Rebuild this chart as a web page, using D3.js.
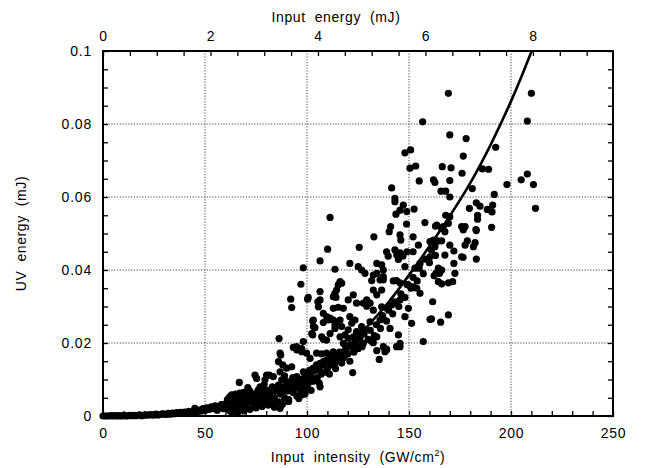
<!DOCTYPE html>
<html>
<head>
<meta charset="utf-8">
<script src="https://cdn.jsdelivr.net/npm/d3@7"></script>
<style>
  body { margin: 0; background: #fff; }
  svg text { font-family: "Liberation Sans", Arial, sans-serif; fill: #000; }
</style>
</head>
<body>
<div id="chart"></div>
<script>
// values
const intensityLabels = [0, 50, 100, 150, 200, 250];
const energyLabels = [0, 2, 4, 6, 8];
const uvLabels = [0, 0.02, 0.04, 0.06, 0.08, 0.1];
const topAxisMax = 9.49; // mJ at 250 GW/cm2

// fitted curve, intensity (GW/cm2) and UV energy (mJ)
const curveI = [0, 20, 40, 60, 80, 100, 110, 120, 130, 140, 150, 160, 170, 180, 190, 200, 205, 210];
const curveE = [0, 0.0001, 0.0007, 0.0023, 0.0055, 0.0108, 0.0145, 0.0192, 0.0248, 0.0312, 0.0386,
  0.0465, 0.0548, 0.0638, 0.0743, 0.0862, 0.0928, 0.0998];

// measured shots: intensity (GW/cm2), UV energy (10^-3 mJ)
const shotI = [
  0,1,2,3,4,5,6,7,8,9,10,11,12,13,14,15,16,17,18,19,20,21,22,23,24,25,26,27,28,29,30,
  31,32,33,34,35,36,37,38,39,40,41,42,43,44,45,46,47,48,49,50,51,52,53,54,55,56,57,58,59,60,45,
  61,61,62,62,63,63,64,64,65,65,66,66,67,67,68,68,69,69,70,70,71,72,72,73,74,74,75,76,76,77,78,78,
  79,80,80,81,82,82,83,84,84,85,86,86,86.8,87,88,89,90,90,91,92,93,93,94,95,95,96,97,97,98,99,99,
  100,100,101,102,102,103,104,105,106,106,107,108,109,110,110,111,112,113,114,115,116,117,118,119,
  120,121,122,123,124,125,126,127,128,130,131,133,134,136,137,139,140,142,143,145,146,148,149,151,
  152,154,155,157,158,160,161,163,164,
  63,66,69,72,75,78,81,84,88,91,96,99,71,79,89,
  169.3,210,208,170,178,192.5,176.6,166.3,170.6,186,189,176,162,162.7,170,205,208,211,198,181,
  165.7,168,170,191.8,212,179.6,183,184.8,191,188.4,190.7,168,170,183.6,183.6,163,166.8,175.8,177.5,
  182.8,190.5,
  163.6,166,167.6,169.3,176.6,183,178.6,177.5,182.4,181.6,162,163.6,166,162.7,170,172,167.6,175.8,
  176.5,183,172,164.4,166,163.2,165,172.5,162.3,164.4,166,169.3,171.4,161.6,161,165.5,169.3,
  156.7,148,150.8,150.5,153.3,155,141.5,143.1,143.1,147.2,145.6,148.9,152.5,143.6,111.3,141,148.8,157.8,
  140.3,132.8,145.6,146,152,154.6,160.3,125.6,139,139.8,143.1,144,145.6,147,144.8,149,152,160.3,121,
  113.7,125.1,126.8,128.4,134.2,136.6,137.4,134.2,148,152.9,155.4,116.2,115.3,131.7,135.8,137.4,142.3,
  143.9,145.6,149.7,152,153.8,155.4,132.5,134.2,136.6,114.2,128.4,129.3,143.1,145.6,112.9,115.3,117.8,
  136.6,139,141.5,149.7,121,123.5,121.9,130.9,135.8,137.4,148,151.3,160.3,114.5,111.3,113.7,117,126.8,
  127.6,124.3,140.7,144.8,118.6,116.2,120.2,131.7,132.5,145.6,157,117.8,121,125.1,122.7,134.2,138.2,
  139,112.9,115.3,118.6,113.7,135.4,122.4,127.6,
  110.1,106.4,98.2,97,106.4,105.3,100.6,100.3,92,92.5,102.8,103.9,102.8,108,110.5,113.7,108,98.2,86.3,
  93.3,95,97.4,104.7,107.2,109.6,101.5,87.1,88.1,90,92.5,
  98.2,99.8,101.5,103.1,104.7,106.4,108,109.6,111.3,112.9,115.3,
  74.5,75.3,77,79.4,81.5,83.5,87.6,88.4,90.8,93.3,95,94.1,97.4,99,100.6,102.3,106.4,66.8,80.2,86.8,86,86.8,
  137.4,132.5,117,114.5,113.7,112.9,120.2,122.7,124.3,129.3,130.9,132.5,106.4,105.6,108,109.6,112.9,
  116.2,103.1,103.1,102.3,107.2,109.6,111.3,120.2,122.7,125.1,127.6,130.9,134.2,137.4,139,143.9,145.6,
  94.9,97.4,99.8
];
const shotE = [
  0,0,0,0,0.1,0,0.1,0,0.1,0,0.1,0.1,0,0.2,0.1,0.2,0.1,0.2,0.3,0.1,0.2,0.3,0.2,0.4,0.3,0.3,0.5,0.3,0.4,0.6,0.5,
  0.4,0.7,0.5,0.8,0.6,0.9,0.7,1.0,0.8,1.1,0.9,1.3,1.0,1.2,1.5,1.1,1.6,1.3,2.0,1.5,2.2,1.8,2.5,2.0,2.8,1.6,2.4,3.1,2.0,3.3,2.1,
  4.5,2.0,5.2,1.5,3.8,5.8,2.6,4.6,6.0,3.2,1.8,5.0,4.0,6.3,2.9,5.5,3.6,6.5,4.5,2.5,5.8,3.8,6.8,5.0,3.2,6.0,4.5,7.0,3.0,5.5,4.2,7.5,
  6.0,3.6,5.0,7.0,4.5,6.2,8.0,5.0,3.5,6.8,3.9,8.5,2.1,6.0,7.5,5.0,6.8,9.5,4.5,8.0,6.5,10.5,7.5,5.5,9.0,8.0,10.0,6.5,9.0,7.5,11.0,
  8.5,12.0,10.0,7.0,11.5,9.5,12.5,10.5,13.0,9.0,11.5,14.0,12.0,13.0,15.0,11.5,14.0,16.5,13.0,15.5,17.5,14.5,16.0,18.5,
  17.0,15.0,19.0,17.5,20.0,18.5,21.5,19.0,22.5,21.0,23.5,22.0,25.0,24.0,27.5,26.0,29.0,28.0,31.0,30.0,33.5,32.5,36.0,35.0,
  38.0,37.0,40.5,39.0,43.0,42.0,45.5,44.0,48.0,
  1.0,0.8,1.4,1.8,2.2,2.6,3.0,2.4,3.2,4.0,4.8,6.0,7.8,8.6,11.0,
  88.4,88.4,80.8,77,76,73.6,71.2,68.3,68,67.7,67.6,66.5,64.7,64,64.5,64.7,66.3,63.4,63.4,62.3,
  61.6,61.6,60,60.7,56.9,56.9,58.4,57.5,57.8,56.6,55.9,55,54.6,55,53.9,52,51.9,51.9,51.9,
  51.1,51.7,
  52.3,51.4,50.5,52.8,51,50.8,48,46.8,47.5,46.4,48.2,47.8,48,46.4,46.8,45.2,44.1,43.6,
  43.5,43,41.8,40.5,40,39.1,39.1,39.1,38.4,36.8,36.2,36.5,36.8,31.3,26.6,25.7,27.7,
  80.6,72.1,72.9,67.9,68.5,64.4,62.5,59.6,58.7,57.8,56.4,56,56.7,55.3,54.4,51.9,52.6,53,
  50.5,49.1,49.6,48.2,49.1,46.8,47.8,46.2,45,43.8,45.5,44.1,44.7,43.8,42.9,45,45,43.6,41.8,
  40.2,40.9,40,39.1,41.8,41.4,40,39.1,40.9,40.5,41.8,36.8,35.9,37.1,37.3,37.3,37,
  37.1,36.5,35.9,35.4,35,33.6,34.5,33.2,34.5,32.5,31,30.1,31.3,31.8,29.5,29.8,29.5,
  29.9,29.5,30.4,29.5,27.2,26.3,25.4,25.8,26.3,26.7,27.2,25.4,26.5,25.8,26.8,24,24.5,24.5,
  23.6,23.1,24,22.2,22.2,21.7,21.3,20.4,20.1,19,20.4,19.9,19.5,18.5,18.1,17.9,17.6,
  18.3,17.6,16.2,16.7,14.4,15.5,11.9,30.9,
  45.7,42.5,40.6,36.1,34.1,31.3,32.5,32,32,29.7,26,24.2,22.2,25.6,26.3,24.9,21,20.4,21.2,
  18.8,18.1,17.6,17.2,17,17.2,15.8,16.7,14,13.1,13.5,
  12.1,11.7,12.6,13.1,14,14.4,14.9,15.3,15.8,16.2,16.7,
  11.2,10.3,8,9.9,11.2,10.8,9.9,8,8.9,9.9,10.8,8,5.8,9.9,8.9,9.9,8,9.2,11.2,12.1,14.9,17.2,
  38.2,38.6,36.4,34.5,33.6,32.7,31.8,33.2,30.9,31.8,30.9,29,31.8,29.9,28.1,27.2,26.3,
  26.3,26.3,24.5,22.6,21.7,20.8,22.6,23.6,21.7,20.8,19.9,20.8,21.7,19,18.1,19,19.9,
  19,18.5,17.2
];

const W = 647, H = 468;
const margin = { top: 51, right: 34, bottom: 52, left: 103 };

const svg = d3.select("#chart").append("svg")
  .attr("width", W)
  .attr("height", H);

const x = d3.scaleLinear().domain([0, 250]).range([margin.left, W - margin.right]);
const xTop = d3.scaleLinear().domain([0, topAxisMax]).range([margin.left, W - margin.right]);
const y = d3.scaleLinear().domain([0, 0.1]).range([H - margin.bottom, margin.top]);

// dotted grid
const grid = svg.append("g")
  .attr("stroke", "#444")
  .attr("stroke-width", 1)
  .attr("stroke-dasharray", "1.2,1.6");
grid.selectAll("line.v")
  .data(intensityLabels.slice(1, -1))
  .join("line")
  .attr("x1", d => x(d)).attr("x2", d => x(d))
  .attr("y1", y(0)).attr("y2", y(0.1));
grid.selectAll("line.h")
  .data(uvLabels.slice(1, -1))
  .join("line")
  .attr("class", "h")
  .attr("x1", x(0)).attr("x2", x(250))
  .attr("y1", d => y(d)).attr("y2", d => y(d));

// ticks (inward)
const minorX = d3.range(0, 251, 10);
const minorTop = d3.range(0, 9.5, 0.5);
const minorY = d3.range(0, 0.1001, 0.005);

function tickAxis(axis, transform) {
  const g = svg.append("g").attr("transform", transform).call(axis);
  g.select(".domain").remove();
  g.selectAll(".tick line").attr("stroke", "#000").attr("stroke-width", 1.3);
  return g;
}
tickAxis(d3.axisBottom(x).tickValues(minorX).tickSize(-5).tickFormat(""), `translate(0,${y(0)})`);
tickAxis(d3.axisTop(xTop).tickValues(minorTop).tickSize(-5).tickFormat(""), `translate(0,${y(0.1)})`);
tickAxis(d3.axisLeft(y).tickValues(minorY).tickSize(-5).tickFormat(""), `translate(${x(0)},0)`);
tickAxis(d3.axisRight(y).tickValues(minorY).tickSize(-5).tickFormat(""), `translate(${x(250)},0)`);

// labels
function labelAxis(axis, transform) {
  const g = svg.append("g").attr("transform", transform).call(axis);
  g.select(".domain").remove();
  g.selectAll(".tick line").remove();
  g.selectAll("text")
    .attr("font-family", "Liberation Sans, Arial, sans-serif")
    .attr("font-size", 14)
    .attr("letter-spacing", "0.8px")
    .attr("fill", "#000");
  return g;
}
labelAxis(d3.axisBottom(x).tickValues(intensityLabels).tickSize(0).tickPadding(12).tickFormat(d3.format("d")),
  `translate(0,${y(0)})`);
labelAxis(d3.axisTop(xTop).tickValues(energyLabels).tickSize(0).tickPadding(10).tickFormat(d3.format("d")),
  `translate(0,${y(0.1)})`);
labelAxis(d3.axisLeft(y).tickValues(uvLabels).tickSize(0).tickPadding(11).tickFormat(d => d === 0 ? "0" : String(d)),
  `translate(${x(0)},0)`);

// frame
svg.append("rect")
  .attr("x", x(0)).attr("y", y(0.1))
  .attr("width", x(250) - x(0)).attr("height", y(0) - y(0.1))
  .attr("fill", "none").attr("stroke", "#000").attr("stroke-width", 2);

// scatter
svg.append("g")
  .attr("fill", "#000")
  .selectAll("circle")
  .data(shotI.map((d, i) => ({ i: d, e: shotE[i] / 1000 })))
  .join("circle")
  .attr("cx", d => x(d.i))
  .attr("cy", d => y(d.e))
  .attr("r", 3.6);

// fit curve
const curve = curveI.map((d, i) => [d, curveE[i]]);
svg.append("path")
  .datum(curve)
  .attr("fill", "none")
  .attr("stroke", "#000")
  .attr("stroke-width", 2.6)
  .attr("d", d3.line().x(d => x(d[0])).y(d => y(d[1])).curve(d3.curveMonotoneX));

// axis titles
svg.append("text")
  .attr("x", 336).attr("y", 22)
  .attr("text-anchor", "middle")
  .attr("font-size", 14)
  .attr("letter-spacing", "0.6px")
  .attr("xml:space", "preserve")
  .text("Input  energy  (mJ)");

const bt = svg.append("text")
  .attr("x", 358).attr("y", 462)
  .attr("text-anchor", "middle")
  .attr("font-size", 14)
  .attr("letter-spacing", "0.6px")
  .attr("xml:space", "preserve");
bt.append("tspan").text("Input  intensity  (GW/cm");
bt.append("tspan").attr("dy", -6).attr("font-size", 9).text("2");
bt.append("tspan").attr("dy", 6).text(")");

svg.append("text")
  .attr("transform", `translate(26,${(y(0) + y(0.1)) / 2}) rotate(-90)`)
  .attr("text-anchor", "middle")
  .attr("font-size", 14)
  .attr("letter-spacing", "0.6px")
  .attr("xml:space", "preserve")
  .text("UV  energy  (mJ)");
</script>
</body>
</html>
